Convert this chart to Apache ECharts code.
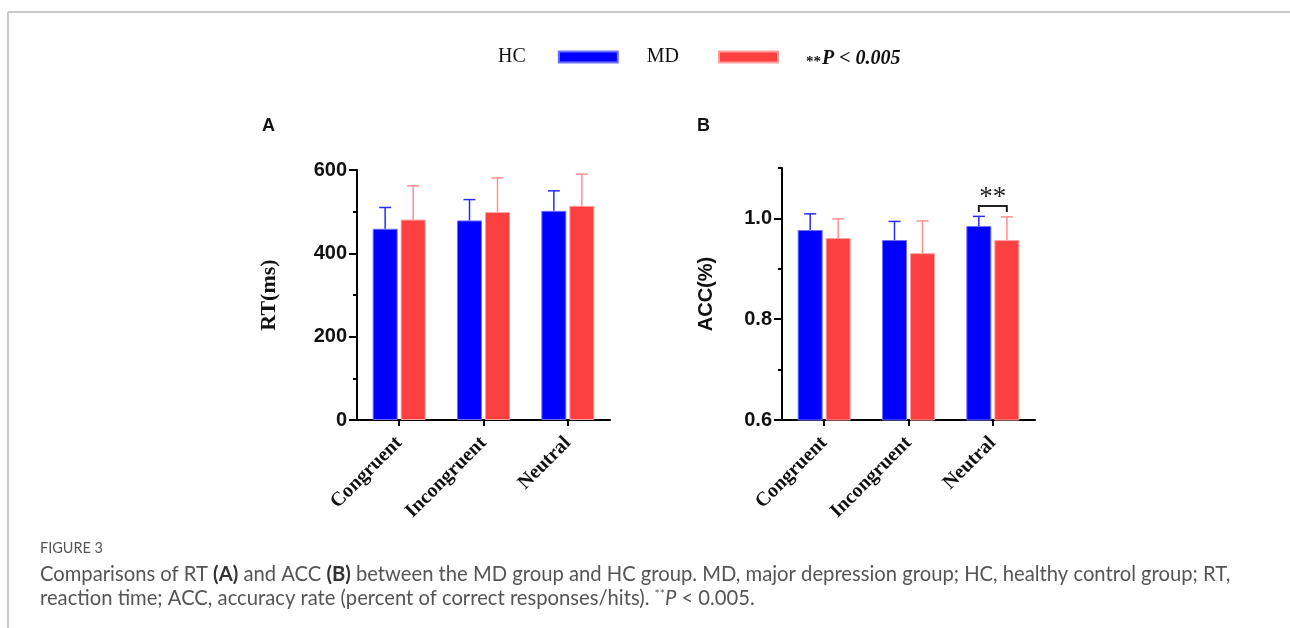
<!DOCTYPE html>
<html><head><meta charset="utf-8">
<script src="https://cdn.jsdelivr.net/npm/echarts@6/dist/echarts.min.js"></script>
<style>html,body{margin:0;padding:0;background:#fff}#c{width:1290px;height:628px}</style>
</head><body><div id="c"></div>
<script>
// ---- data ----
const categories = ['Congruent', 'Incongruent', 'Neutral'];
const groupNames = ['HC', 'MD'];
const rtHC = [459, 479, 502];
const rtHCsd = [51, 50, 48];
const rtMD = [481, 499, 514];
const rtMDsd = [81, 82, 76];
const accHC = [0.977, 0.957, 0.985];
const accHCsd = [0.032, 0.037, 0.019];
const accMD = [0.961, 0.931, 0.957];
const accMDsd = [0.038, 0.064, 0.046];
const rtAxis = {min: 0, max: 600, interval: 200};
const accAxis = {min: 0.6, max: 1.1, interval: 0.2};
const accMajorTicks = [0.6, 0.8, 1.0];
const accMinorTicks = [0.7, 0.9, 1.1];
const sigCategory = ['Neutral'];
const sigLow = [1.0127];
const sigHigh = [1.0246];
const sigLabel = ['**'];
const pNote = 'P < 0.005';

// ---- styles ----
const BLUE = '#0000ff', RED = '#fc4040';
const SERIF = 'Liberation Serif', SANS = 'Liberation Sans';
const BW = 25, GAP = 3;

function fit(text, font, target) {
  const c = document.createElement('canvas').getContext('2d');
  c.font = font.replace('SIZE', '100px');
  return 100 * target / c.measureText(text).width;
}

function errRender(sign, color) {
  return function (params, api) {
    const i = api.value(0), m = api.value(1), sd = api.value(2);
    const p0 = api.coord([i, m]), p1 = api.coord([i, m + sd]);
    const x = p0[0] + sign * (BW + GAP) / 2;
    const cap = 6;
    return {type: 'group', children: [
      {type: 'line', shape: {x1: x, y1: p0[1], x2: x, y2: p1[1]}, style: {stroke: color, lineWidth: 1.5}},
      {type: 'line', shape: {x1: x - cap, y1: p1[1], x2: x + cap, y2: p1[1]}, style: {stroke: color, lineWidth: 1.5}}
    ]};
  };
}

function sigRender(params, api) {
  const i = api.value(0), lo = api.value(1), hi = api.value(2);
  const pl = api.coord([i, lo]), ph = api.coord([i, hi]);
  const xa = pl[0] - (BW + GAP) / 2, xb = pl[0] + (BW + GAP) / 2;
  return {type: 'group', children: [
    {type: 'polyline', shape: {points: [[xa, pl[1]], [xa, ph[1]], [xb, ph[1]], [xb, pl[1]]]},
      style: {stroke: '#222', lineWidth: 2, fill: null}},
    {type: 'text', x: (xa + xb) / 2, y: ph[1] + 5,
      style: {text: sigLabel[params.dataIndex], fontFamily: SERIF, fontSize: 27, fill: '#222',
        align: 'center', verticalAlign: 'bottom'}}
  ]};
}

function xAxis(gi) {
  return {type: 'category', gridIndex: gi, data: categories,
    axisLine: {show: true, lineStyle: {color: '#000', width: 2}},
    axisTick: {show: true, alignWithLabel: true, length: 6, lineStyle: {color: '#000', width: 2}},
    axisLabel: {rotate: 45, margin: 20, fontFamily: SERIF, fontWeight: 'bold', fontSize: 20, color: '#111'},
    splitLine: {show: false}};
}
const labelStyle = {margin: 10, fontFamily: SANS, fontWeight: 'bold', fontSize: 20, color: '#111'};
const yA = {type: 'value', gridIndex: 0, min: rtAxis.min, max: rtAxis.max, interval: rtAxis.interval,
  name: 'RT(ms)', nameLocation: 'middle', nameGap: 77, nameRotate: 90,
  nameTextStyle: {fontFamily: SERIF, fontWeight: 'bold', fontSize: 22, color: '#111'},
  axisLine: {show: true, lineStyle: {color: '#000', width: 2}},
  axisTick: {show: true, length: 8, lineStyle: {color: '#000', width: 2}},
  minorTick: {show: true, splitNumber: 2, length: 4, lineStyle: {color: '#000', width: 2}},
  splitLine: {show: false}, minorSplitLine: {show: false},
  axisLabel: Object.assign({}, labelStyle)};
const yB = {type: 'value', gridIndex: 1, min: accAxis.min, max: accAxis.max, interval: accAxis.interval,
  name: 'ACC(%)', nameLocation: 'middle', nameGap: 66, nameRotate: 90,
  nameTextStyle: {fontFamily: SANS, fontWeight: 'bold', fontSize: 20, color: '#111'},
  axisLine: {show: true, lineStyle: {color: '#000', width: 2}},
  axisTick: {show: true, length: 8, customValues: accMajorTicks, lineStyle: {color: '#000', width: 2}},
  splitLine: {show: false},
  axisLabel: Object.assign({customValues: accMajorTicks, formatter: v => v.toFixed(1)}, labelStyle)};
const yBminor = {type: 'value', gridIndex: 1, min: accAxis.min, max: accAxis.max, position: 'left', offset: 0,
  axisLine: {show: false}, axisLabel: {show: false}, splitLine: {show: false},
  axisTick: {show: true, length: 4, customValues: accMinorTicks, lineStyle: {color: '#000', width: 2}}};

function bars(name, gi, data, color, border) {
  return {name: name, type: 'bar', xAxisIndex: gi, yAxisIndex: gi, data: data,
    barWidth: BW, barGap: (GAP / BW * 100) + '%',
    itemStyle: {color: color, borderColor: border, borderWidth: 1}};
}
function errs(gi, means, sds, sign, color) {
  return {type: 'custom', name: 'err', xAxisIndex: gi, yAxisIndex: gi, z: 3,
    data: means.map((m, i) => [i, m, sds[i]]), encode: {x: 0, y: 1},
    renderItem: errRender(sign, color), silent: true};
}

const cap1 = 'Comparisons of RT (A) and ACC (B) between the MD group and HC group. MD, major depression group; HC, healthy control group; RT,';
const capFont = 'SIZE Lato';
const capSize = fit(cap1, capFont, 1190);
const figSize = fit('FIGURE 3', capFont, 63);
const legendPad = [28, 35];

const chart = echarts.init(document.getElementById('c'));
chart.setOption({
  animation: false,
  backgroundColor: '#fff',
  grid: [
    {left: 357, width: 253, top: 170, bottom: 208, containLabel: false},
    {left: 782, width: 253, top: 168, bottom: 208, containLabel: false}
  ],
  legend: {data: groupNames.map((n, k) => ({name: n, textStyle: {padding: [0, legendPad[k], 0, 0]}})),
    left: 498, top: 47, padding: 0, align: 'right', icon: 'rect',
    itemWidth: 59, itemHeight: 11, itemGap: 28,
    textStyle: {fontFamily: SERIF, fontSize: 20, color: '#111'}},
  xAxis: [xAxis(0), xAxis(1)],
  yAxis: [yA, yB, yBminor],
  series: [
    bars('HC', 0, rtHC, BLUE, '#7070ff'),
    bars('MD', 0, rtMD, RED, '#ffa0a0'),
    bars('HC', 1, accHC, BLUE, '#7070ff'),
    bars('MD', 1, accMD, RED, '#ffa0a0'),
    errs(0, rtHC, rtHCsd, -1, '#2a2aff'),
    errs(0, rtMD, rtMDsd, 1, '#ff9090'),
    errs(1, accHC, accHCsd, -1, '#2a2aff'),
    errs(1, accMD, accMDsd, 1, '#ff9090'),
    {type: 'custom', name: 'sig', xAxisIndex: 1, yAxisIndex: 1, z: 4, silent: true,
      data: sigCategory.map((c, k) => [categories.indexOf(c), sigLow[k], sigHigh[k]]),
      encode: {x: 0, y: 1}, renderItem: sigRender}
  ],
  graphic: [
    {type: 'line', shape: {x1: 8, y1: 12, x2: 1290, y2: 12}, style: {stroke: '#c8c8c8', lineWidth: 2}},
    {type: 'line', shape: {x1: 8, y1: 12, x2: 8, y2: 628}, style: {stroke: '#c8c8c8', lineWidth: 2}},
    {type: 'text', left: 806, top: 49, style: {
      text: '{s|**}{p|' + pNote + '}',
      rich: {s: {fontFamily: SERIF, fontWeight: 'bold', fontSize: 15, fill: '#111', padding: [7, 1, 0, 0]},
             p: {fontFamily: SERIF, fontWeight: 'bold', fontStyle: 'italic', fontSize: 20, fill: '#111'}}}},
    {type: 'text', left: 262, top: 117, style: {text: 'A', fontFamily: SANS, fontWeight: 'bold', fontSize: 18, fill: '#111'}},
    {type: 'text', left: 697, top: 117, style: {text: 'B', fontFamily: SANS, fontWeight: 'bold', fontSize: 18, fill: '#111'}},
    {type: 'text', left: 40, top: 541, style: {text: 'FIGURE 3', fontFamily: 'Lato', fontSize: figSize, fill: '#555'}},
    {type: 'text', left: 40, top: 564, style: {
      text: '{n|Comparisons of RT }{b|(A)}{n| and ACC }{b|(B)}{n| between the MD group and HC group. MD, major depression group; HC, healthy control group; RT,}',
      rich: {n: {fontFamily: 'Lato', fontSize: capSize, fill: '#555'},
             b: {fontFamily: 'Lato', fontWeight: 'bold', fontSize: capSize, fill: '#333'}}}},
    {type: 'text', left: 40, top: 588, style: {
      text: '{n|reaction time; ACC, accuracy rate (percent of correct responses/hits). }{s|**}{i|P}{n| < 0.005.}',
      rich: {n: {fontFamily: 'Lato', fontSize: capSize, fill: '#555'},
             s: {fontFamily: 'Lato', fontSize: capSize * 0.6, fill: '#555', verticalAlign: 'top', padding: [0, 0, 6, 0]},
             i: {fontFamily: 'Lato', fontStyle: 'italic', fontSize: capSize, fill: '#555'}}}}
  ]
});
</script>
</body></html>
